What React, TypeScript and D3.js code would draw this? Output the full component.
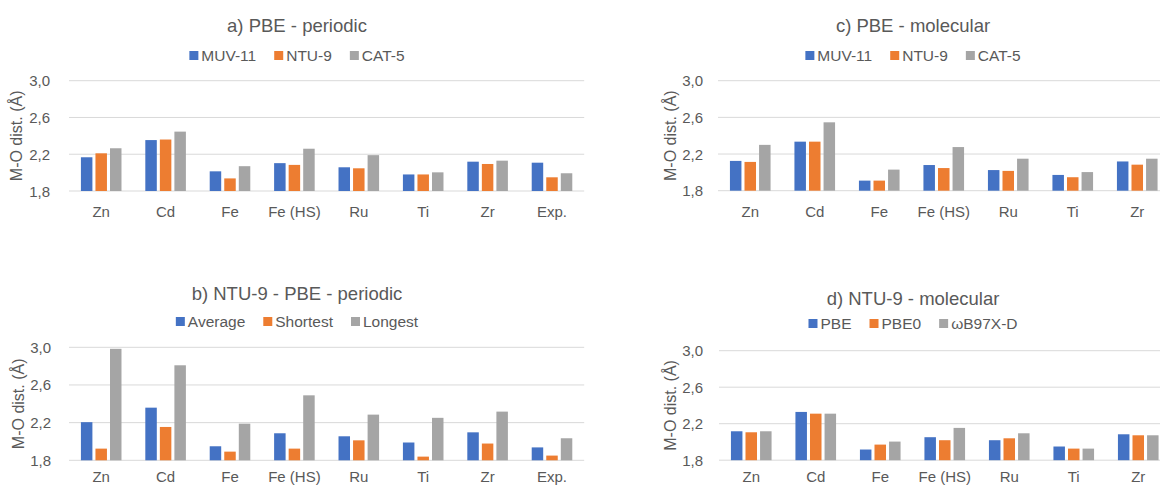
import React, { useEffect } from "react";
import * as d3 from "d3";

// ---------- data ----------
const CATS_PERIODIC = ["Zn", "Cd", "Fe", "Fe (HS)", "Ru", "Ti", "Zr", "Exp."];
const CATS_MOLECULAR = ["Zn", "Cd", "Fe", "Fe (HS)", "Ru", "Ti", "Zr"];

const Y_TICKS = [1.8, 2.2, 2.6, 3.0];

// a) PBE - periodic
const A_LABELS = ["MUV-11", "NTU-9", "CAT-5"];
const A_MUV11 = [2.167, 2.354, 2.014, 2.103, 2.058, 1.98, 2.119, 2.108];
const A_NTU9 = [2.21, 2.36, 1.937, 2.084, 2.047, 1.98, 2.094, 1.949];
const A_CAT5 = [2.265, 2.446, 2.07, 2.26, 2.19, 2.003, 2.13, 1.993];

// b) NTU-9 - PBE - periodic
const B_LABELS = ["Average", "Shortest", "Longest"];
const B_AVERAGE = [2.205, 2.359, 1.949, 2.087, 2.055, 1.989, 2.097, 1.937];
const B_SHORTEST = [1.924, 2.154, 1.892, 1.924, 2.012, 1.839, 1.978, 1.85];
const B_LONGEST = [2.984, 2.809, 2.189, 2.49, 2.285, 2.251, 2.317, 2.034];

// c) PBE - molecular
const C_LABELS = ["MUV-11", "NTU-9", "CAT-5"];
const C_MUV11 = [2.125, 2.335, 1.91, 2.08, 2.025, 1.972, 2.119];
const C_NTU9 = [2.114, 2.335, 1.91, 2.047, 2.016, 1.947, 2.084];
const C_CAT5 = [2.3, 2.546, 2.03, 2.276, 2.149, 2.003, 2.149];

// d) NTU-9 - molecular
const D_LABELS = ["PBE", "PBE0", "ωB97X-D"];
const D_PBE = [2.117, 2.329, 1.917, 2.052, 2.019, 1.95, 2.084];
const D_PBE0 = [2.106, 2.31, 1.971, 2.019, 2.04, 1.927, 2.073];
const D_WB97XD = [2.117, 2.31, 2.004, 2.154, 2.095, 1.927, 2.073];

const COLORS = ["#4472C4", "#ED7D31", "#A5A5A5"];
const TEXT = "#595959";
const GRID = "#D9D9D9";
const FONT = "'Liberation Sans', Arial, Helvetica, sans-serif";

const TITLE_SIZE = 18.5;
const LEGEND_SIZE = 15.5;
const TICK_SIZE = 15;
const CAT_SIZE = 15;
const AXIS_SIZE = 16;

let ctx: CanvasRenderingContext2D | null = null;
function measure(text: string, size: number) {
  if (!ctx) {
    const c = document.createElement("canvas");
    ctx = c.getContext("2d");
  }
  if (!ctx) return text.length * size * 0.55;
  ctx.font = `${size}px 'Liberation Sans', Arial, sans-serif`;
  return ctx.measureText(text).width;
}

type PanelCfg = {
  title: string;
  titleX: number;
  titleY: number;
  legendY: number;
  labels: string[];
  series: number[][];
  cats: string[];
  plotL: number;
  band: number;
  yTop: number;
  yBot: number;
  tickRight: number;
  axisTitleX: number;
  catDy: number;
};

const PANELS: PanelCfg[] = [
  {
    title: "a) PBE - periodic",
    titleX: 297, titleY: 32, legendY: 61,
    labels: A_LABELS, series: [A_MUV11, A_NTU9, A_CAT5], cats: CATS_PERIODIC,
    plotL: 69, band: 64.4, yTop: 80.7, yBot: 191,
    tickRight: 50, axisTitleX: 16, catDy: 26,
  },
  {
    title: "b) NTU-9 - PBE - periodic",
    titleX: 297, titleY: 300, legendY: 327,
    labels: B_LABELS, series: [B_AVERAGE, B_SHORTEST, B_LONGEST], cats: CATS_PERIODIC,
    plotL: 69, band: 64.4, yTop: 347.3, yBot: 460.3,
    tickRight: 51, axisTitleX: 18, catDy: 22,
  },
  {
    title: "c) PBE - molecular",
    titleX: 913, titleY: 32, legendY: 61,
    labels: C_LABELS, series: [C_MUV11, C_NTU9, C_CAT5], cats: CATS_MOLECULAR,
    plotL: 718, band: 64.5, yTop: 80.7, yBot: 190.7,
    tickRight: 703, axisTitleX: 670, catDy: 26,
  },
  {
    title: "d) NTU-9 - molecular",
    titleX: 913, titleY: 305, legendY: 329,
    labels: D_LABELS, series: [D_PBE, D_PBE0, D_WB97XD], cats: CATS_MOLECULAR,
    plotL: 719, band: 64.5, yTop: 350.7, yBot: 460.2,
    tickRight: 703, axisTitleX: 670, catDy: 22,
  },
];

const fmt = (v: number) => d3.format(".1f")(v).replace(".", ",");

function Panel({ cfg }: { cfg: PanelCfg }) {
  const plotR = cfg.plotL + cfg.band * cfg.cats.length;
  const x0 = d3.scaleBand<string>().domain(cfg.cats).range([cfg.plotL, plotR]).padding(0);
  const groupW = x0.bandwidth() * 0.63;
  const x1 = d3
    .scaleBand<number>()
    .domain([0, 1, 2])
    .range([0, groupW])
    .paddingInner(0.21);
  const y = d3.scaleLinear().domain([1.8, 3.0]).range([cfg.yBot, cfg.yTop]);

  // legend layout
  const sq = 9;
  const items = cfg.labels.map((l) => ({ l, w: sq + 3 + measure(l, LEGEND_SIZE) }));
  const gap = 18;
  const total = d3.sum(items, (d) => d.w) + gap * (items.length - 1);
  let cx = cfg.titleX - total / 2;
  const legendItems = items.map((it, i) => {
    const x = cx;
    cx += it.w + gap;
    return { ...it, x, i };
  });

  return (
    <g>
      <text
        x={cfg.titleX}
        y={cfg.titleY}
        textAnchor="middle"
        fontSize={TITLE_SIZE}
        fill={TEXT}
        fontFamily={FONT}
      >
        {cfg.title}
      </text>
      {legendItems.map((it) => (
        <g key={it.l}>
          <rect x={it.x} y={cfg.legendY - 10} width={sq} height={sq} fill={COLORS[it.i]} />
          <text x={it.x + sq + 3} y={cfg.legendY} fontSize={LEGEND_SIZE} fill={TEXT} fontFamily={FONT}>
            {it.l}
          </text>
        </g>
      ))}
      {Y_TICKS.map((t) => (
        <g key={t}>
          <line x1={cfg.plotL} x2={plotR} y1={y(t)} y2={y(t)} stroke={GRID} strokeWidth={1} />
          <text
            x={cfg.tickRight}
            y={y(t)}
            textAnchor="end"
            dominantBaseline="central"
            fontSize={TICK_SIZE}
            fill={TEXT}
            fontFamily={FONT}
          >
            {fmt(t)}
          </text>
        </g>
      ))}
      <text
        transform={`translate(${cfg.axisTitleX},${(cfg.yTop + cfg.yBot) / 2}) rotate(-90)`}
        textAnchor="middle"
        dominantBaseline="central"
        fontSize={AXIS_SIZE}
        fill={TEXT}
        fontFamily={FONT}
      >
        M-O dist. (Å)
      </text>
      {cfg.cats.map((c, ci) => {
        const gx = (x0(c) as number) + (x0.bandwidth() - groupW) / 2;
        return (
          <g key={c}>
            {cfg.series.map((s, si) => (
              <rect
                key={si}
                x={gx + (x1(si) as number)}
                y={y(s[ci])}
                width={x1.bandwidth()}
                height={cfg.yBot - y(s[ci])}
                fill={COLORS[si]}
              />
            ))}
            <text
              x={(x0(c) as number) + x0.bandwidth() / 2}
              y={cfg.yBot + cfg.catDy}
              textAnchor="middle"
              fontSize={CAT_SIZE}
              fill={TEXT}
              fontFamily={FONT}
            >
              {c}
            </text>
          </g>
        );
      })}
    </g>
  );
}

export default function App() {
  useEffect(() => {
    document.body.style.margin = "0";
  }, []);
  return (
    <svg width={1160} height={486} style={{ display: "block", background: "#fff" }}>
      {PANELS.map((p) => (
        <Panel key={p.title} cfg={p} />
      ))}
    </svg>
  );
}
